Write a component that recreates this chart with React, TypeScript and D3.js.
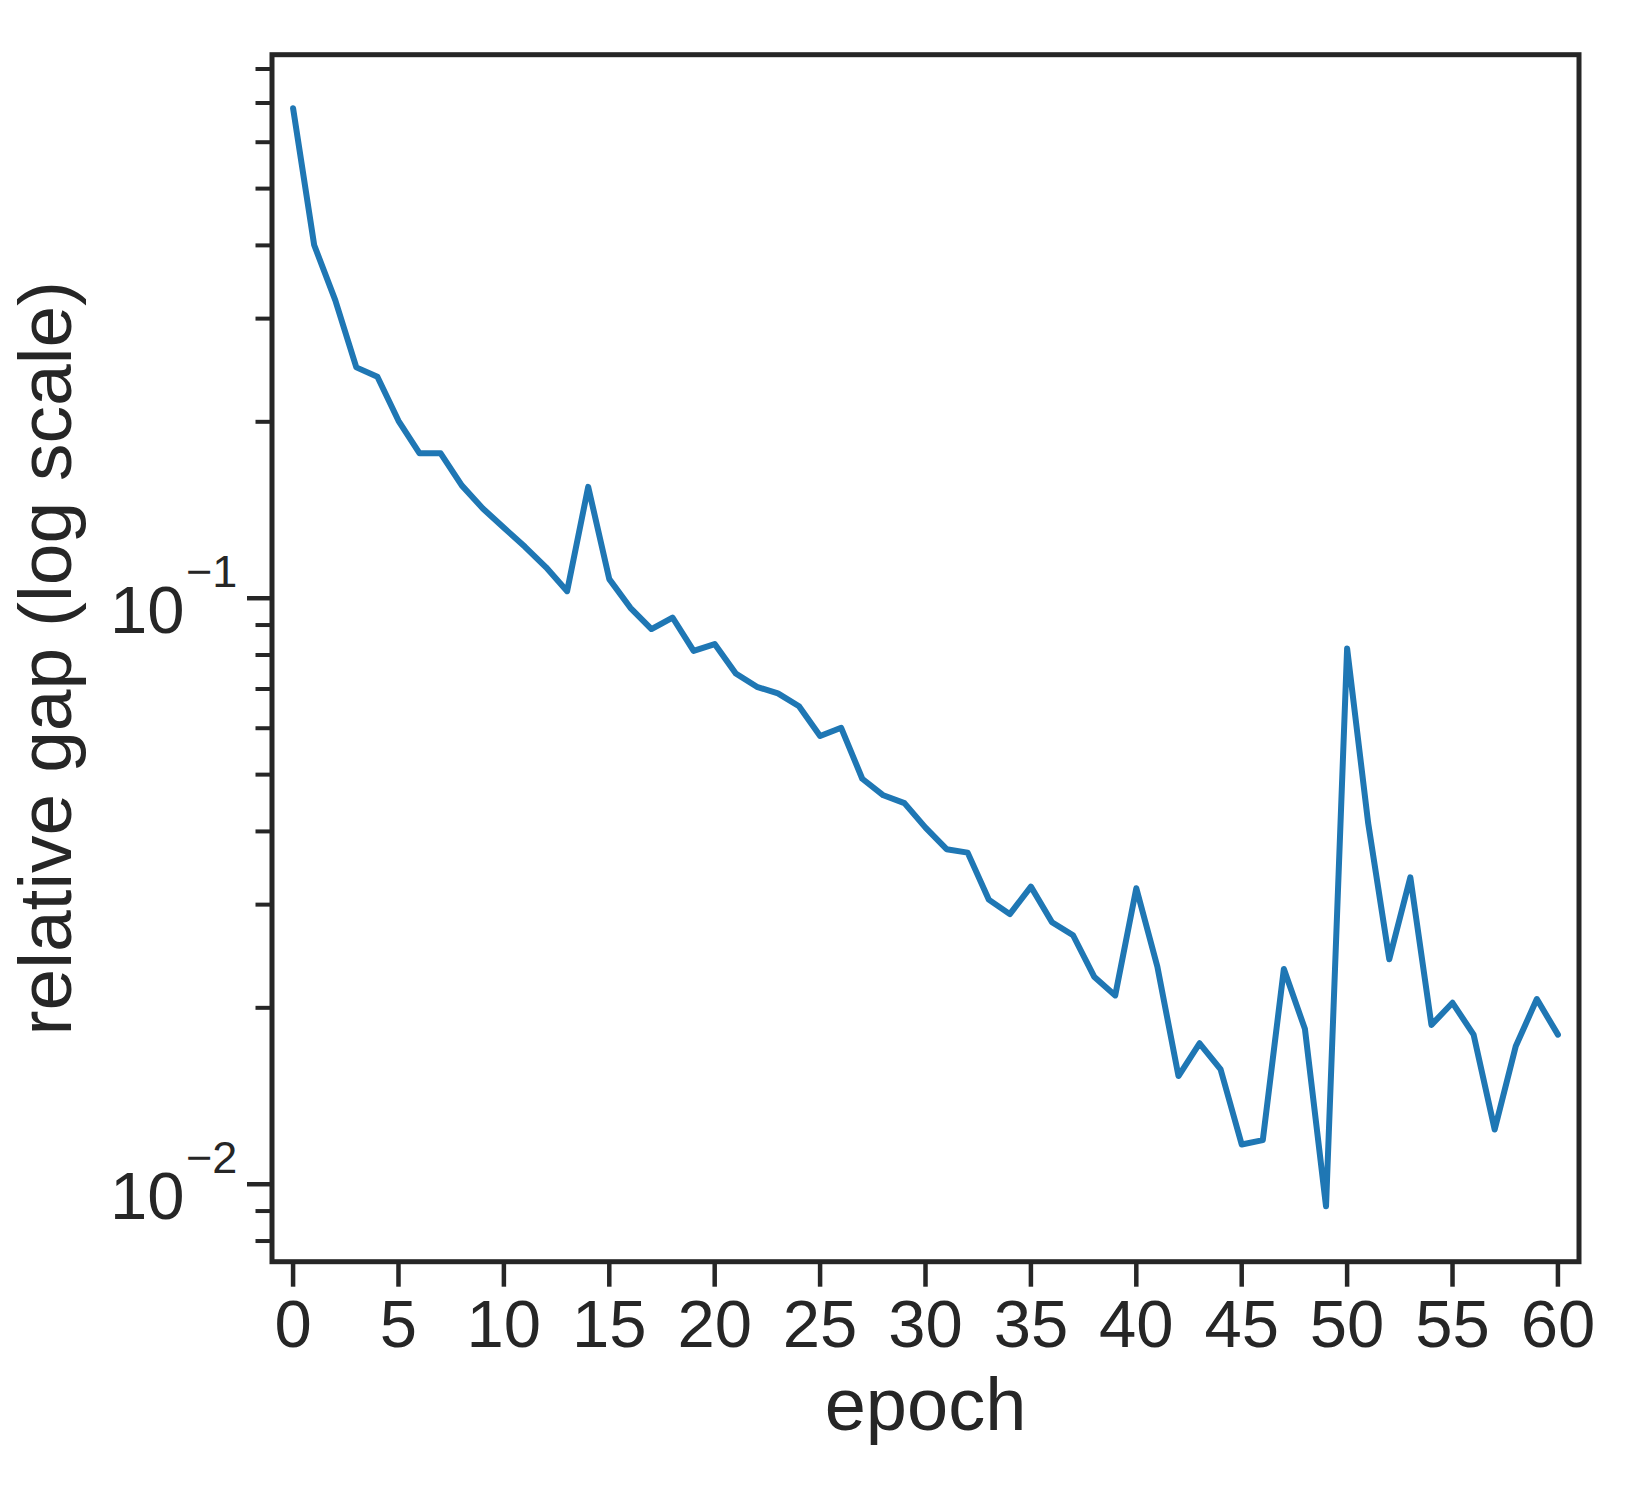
import React from 'react';
import * as d3 from 'd3';

const epochs = [
  0, 1, 2, 3, 4, 5, 6, 7, 8, 9, 10, 11, 12, 13, 14, 15, 16, 17, 18, 19, 20,
  21, 22, 23, 24, 25, 26, 27, 28, 29, 30, 31, 32, 33, 34, 35, 36, 37, 38, 39, 40,
  41, 42, 43, 44, 45, 46, 47, 48, 49, 50, 51, 52, 53, 54, 55, 56, 57, 58, 59, 60,
];

const relativeGap = [
  0.6855, 0.4006, 0.3227, 0.2477, 0.2387, 0.2008, 0.1767, 0.1767, 0.1558, 0.1423,
  0.1319, 0.1224, 0.1129, 0.1028, 0.1549, 0.1078, 0.0963, 0.0886, 0.0927, 0.0813,
  0.0835, 0.0744, 0.0706, 0.0688, 0.0654, 0.0582, 0.0601, 0.0492, 0.0461, 0.0447,
  0.0406, 0.0373, 0.0368, 0.0306, 0.0289, 0.0322, 0.0280, 0.0266, 0.0226, 0.0210,
  0.0320, 0.0235, 0.0153, 0.0174, 0.0157, 0.01169, 0.01189, 0.0233, 0.0184, 0.00917,
  0.0821, 0.0413, 0.0242, 0.0334, 0.0187, 0.0204, 0.0180, 0.0124, 0.0172, 0.0207,
  0.0180,
];

const xTickValues = [0, 5, 10, 15, 20, 25, 30, 35, 40, 45, 50, 55, 60];
const yMajorTicks = [0.01, 0.1];
const yMajorExponents = ['−2', '−1'];
const yMinorTicks = [
  0.008, 0.009,
  0.02, 0.03, 0.04, 0.05, 0.06, 0.07, 0.08, 0.09,
  0.2, 0.3, 0.4, 0.5, 0.6, 0.7, 0.8,
];

const xLabel = 'epoch';
const yLabel = 'relative gap (log scale)';

const W = 1650;
const H = 1500;
const left = 272;
const right = 1579;
const top = 54.7;
const bottom = 1261.7;
const ink = '#262626';
const lineColor = '#1f77b4';
const font = '"Liberation Sans", Arial, Helvetica, sans-serif';

export default function App() {
  const x = d3.scaleLinear().domain([-1, 61]).range([left, right]);
  const y = d3.scaleLog().domain([0.007376, 0.8462]).range([bottom, top]);
  const data = epochs.map((e, i) => [e, relativeGap[i]] as [number, number]);
  const line = d3
    .line<[number, number]>()
    .x((d) => x(d[0]))
    .y((d) => y(d[1]));

  return (
    <svg
      width={W}
      height={H}
      viewBox={`0 0 ${W} ${H}`}
      style={{ position: 'absolute', left: 0, top: 0, background: '#fff' }}
      fontFamily={font}
    >
      <rect x={0} y={0} width={W} height={H} fill="#fff" />
      <path
        d={line(data) || ''}
        fill="none"
        stroke={lineColor}
        strokeWidth={6}
        strokeLinejoin="round"
        strokeLinecap="round"
      />
      {/* spines */}
      <rect
        x={left}
        y={top}
        width={right - left}
        height={bottom - top}
        fill="none"
        stroke={ink}
        strokeWidth={5}
        strokeLinecap="square"
      />
      {/* x ticks */}
      {xTickValues.map((t) => (
        <g key={`xt${t}`}>
          <line x1={x(t)} x2={x(t)} y1={bottom} y2={bottom + 25} stroke={ink} strokeWidth={4.5} />
          <text x={x(t)} y={1347} textAnchor="middle" fontSize={67} fill={ink}>
            {t}
          </text>
        </g>
      ))}
      {/* y minor ticks */}
      {yMinorTicks.map((t) => (
        <line key={`ym${t}`} x1={left - 16.5} x2={left} y1={y(t)} y2={y(t)} stroke={ink} strokeWidth={4} />
      ))}
      {/* y major ticks */}
      {yMajorTicks.map((t, i) => (
        <g key={`yM${t}`}>
          <line x1={left - 25} x2={left} y1={y(t)} y2={y(t)} stroke={ink} strokeWidth={4.5} />
          <text x={184.5} y={y(t) + 35.2} textAnchor="end" fontSize={67} fill={ink}>
            10
          </text>
          <text x={186} y={y(t) - 10.8} textAnchor="start" fontSize={45} fill={ink}>
            {yMajorExponents[i]}
          </text>
        </g>
      ))}
      {/* axis labels */}
      <text x={(left + right) / 2} y={1430} textAnchor="middle" fontSize={74} fill={ink}>
        {xLabel}
      </text>
      <text
        transform={`translate(71,${(top + bottom) / 2}) rotate(-90)`}
        textAnchor="middle"
        fontSize={75}
        fill={ink}
      >
        {yLabel}
      </text>
    </svg>
  );
}
